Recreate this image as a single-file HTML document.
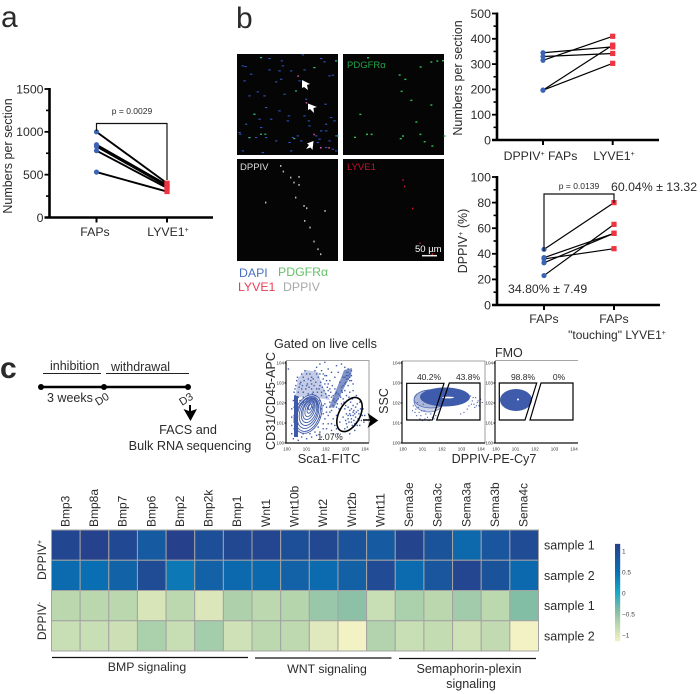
<!DOCTYPE html>
<html lang="en">
<head>
<meta charset="utf-8">
<title>Multi-panel figure: FAPs and LYVE1 analysis</title>
<style>
html,body{margin:0;padding:0;background:#fff;}
svg{display:block;filter:blur(0.3px);}
text{font-family:"Liberation Sans",sans-serif;fill:#2b2b2b;}
</style>
</head>
<body>
<svg id="fig" width="700" height="694" viewBox="0 0 700 694" xmlns="http://www.w3.org/2000/svg">
  <text x="1" y="27" font-size="30">a</text>
  <text x="236" y="28" font-size="30">b</text>
  <text x="0" y="378" font-size="30" font-weight="bold">c</text>

  <g id="chartA"></g>
  <text transform="translate(12,156) rotate(-90)" text-anchor="middle" font-size="12.5">Numbers per section</text>
  <text x="132" y="114" text-anchor="middle" font-size="8.5">p = 0.0029</text>
  <path d="M96.5 131V123.5H167V180" fill="none" stroke="#111" stroke-width="1.2"/>

  <g id="chartB1"></g>
  <text transform="translate(462,78) rotate(-90)" text-anchor="middle" font-size="12.5">Numbers per section</text>

  <g id="chartB2"></g>
  <text transform="translate(467,241) rotate(-90)" text-anchor="middle" font-size="12.5">DPPIV<tspan font-size="7" dy="-4">+</tspan><tspan dy="4"> (%)</tspan></text>
  <text x="579" y="189" text-anchor="middle" font-size="8.5">p = 0.0139</text>
  <path d="M544 251V194H614V203" fill="none" stroke="#111" stroke-width="1.2"/>
  <text x="611" y="191" font-size="12.3">60.04% ± 13.32</text>
  <text x="508" y="293" font-size="12.3">34.80% ± 7.49</text>
  <text x="617" y="339" text-anchor="middle" font-size="12">"touching" LYVE1<tspan font-size="7" dy="-4">+</tspan></text>

  <g>
    <rect x="237" y="54" width="101" height="101" fill="#050505"/>
    <rect x="343" y="54" width="101" height="101" fill="#050505"/>
    <rect x="237" y="159" width="101" height="102" fill="#050505"/>
    <rect x="343" y="159" width="101" height="102" fill="#050505"/>
    <g id="micro"></g>
    <path d="M302 80L310 84L307 85L308 90L304 87L302 88Z M308 103.500L317 107L313.500 108L314 113L310 109L308 110Z M313.500 141L312.500 150L310.500 147.500L306 149L309 145L307 143.500Z" fill="#fff"/>
    <text x="347" y="68" font-size="9.500" style="fill:#23a34a">PDGFRα</text>
    <text x="240" y="170" font-size="9.500" style="fill:#ddd">DPPIV</text>
    <text x="347" y="170" font-size="9.500" style="fill:#c8102e">LYVE1</text>
    <text x="415" y="252" font-size="9.500" style="fill:#fff">50 µm</text>
    <line x1="422" y1="255.700" x2="437" y2="255.700" stroke="#eee" stroke-width="1.500"/>
  </g>
  <g font-size="12.300">
    <text x="239" y="277" style="fill:#4a70c0">DAPI</text>
    <text x="278" y="276" style="fill:#67c06b">PDGFRα</text>
    <text x="238" y="291" style="fill:#ee3d55">LYVE1</text>
    <text x="283" y="291" style="fill:#a9a9a9">DPPIV</text>
  </g>

  <g>
    <text x="50" y="370" font-size="12.500">inhibition</text>
    <text x="111" y="371" font-size="12.500">withdrawal</text>
    <line x1="43" y1="373.500" x2="101" y2="373.500" stroke="#222"/>
    <line x1="106" y1="373.500" x2="189" y2="373.500" stroke="#222"/>
    <line x1="41" y1="387" x2="188" y2="387" stroke="#000" stroke-width="2.400"/>
    <circle cx="41" cy="387" r="3" fill="#000"/>
    <circle cx="104" cy="387" r="3" fill="#000"/>
    <circle cx="188" cy="387" r="3" fill="#000"/>
    <text x="47" y="402" font-size="12.500">3 weeks</text>
    <text transform="translate(98,406) rotate(-32)" font-size="11">D0</text>
    <text transform="translate(182,406) rotate(-32)" font-size="11">D3</text>
    <path d="M189 405h2v6l6-2-6.500 12-7-12 5.500 2z" fill="#000"/>
    <text x="188" y="434" text-anchor="middle" font-size="12.700">FACS and</text>
    <text x="190" y="450" text-anchor="middle" font-size="12.700">Bulk RNA sequencing</text>
  </g>

  <g>
    <text x="274" y="348" font-size="12.600">Gated on live cells</text>
    <text transform="translate(275,401) rotate(-90)" text-anchor="middle" font-size="12.600">CD31/CD45-APC</text>
    <text x="329" y="463" text-anchor="middle" font-size="13">Sca1-FITC</text>
    <g>
      <path d="M286 361V443H369" fill="none" stroke="#111" stroke-width="1.200"/>
      <path d="M286 360.500H369V443" fill="none" stroke="#888" stroke-width="0.800"/>
      <path d="M295 398L298 378L306 370L318 372L322 385L330 400L318 398L306 396Z" fill="#3f5bab" fill-opacity="0.300"/>
      <rect x="294" y="396" width="4" height="41" fill="#3f5bab"/>
      <g fill="none" stroke="#3f5bab" stroke-width="0.900">
        <ellipse cx="308" cy="414" rx="13" ry="20" transform="rotate(20 308 414)"/>
        <ellipse cx="308" cy="414" rx="11.500" ry="18" transform="rotate(20 308 414)"/>
        <ellipse cx="308" cy="413" rx="10" ry="16" transform="rotate(20 308 413)"/>
        <ellipse cx="308.500" cy="412" rx="8.500" ry="14" transform="rotate(20 308.500 412)"/>
        <ellipse cx="309" cy="411" rx="7" ry="12" transform="rotate(20 309 411)"/>
        <ellipse cx="309" cy="410" rx="5.500" ry="10" transform="rotate(20 309 410)"/>
        <ellipse cx="309.500" cy="409" rx="4" ry="8" transform="rotate(20 309.500 409)"/>
        <ellipse cx="310" cy="408" rx="2.500" ry="5.500" transform="rotate(20 310 408)"/>
        <ellipse cx="310" cy="407" rx="1.200" ry="3" transform="rotate(20 310 407)"/>
      </g>
      <path d="M352 368L344 370L341 378L329 407L334 408L346 384L351 376Z" fill="#3f5bab" fill-opacity="0.650"/>
      <g id="flowDots"></g>
      <ellipse cx="349.500" cy="414.500" rx="10.500" ry="18.500" transform="rotate(28 349.500 414.500)" fill="none" stroke="#000" stroke-width="1.600"/>
      <text x="330" y="440" text-anchor="middle" font-size="9">1.07%</text>
    </g>
    <path d="M363 420H371M369 415L377 420.500L369 426L371 420.500Z" fill="#000" stroke="#000" stroke-width="1.400"/>

    <g>
      <path d="M402 361V443H485V361H402" fill="none" stroke="#888" stroke-width="0.800"/>
      <path d="M402 361V443H485" fill="none" stroke="#111" stroke-width="1.200"/>
      <g fill="#3f5bab" fill-opacity="0.250" stroke="#5570b8" stroke-width="0.700">
        <ellipse cx="431" cy="399" rx="17" ry="9"/><ellipse cx="429" cy="401" rx="15" ry="11"/>
      </g>
      <ellipse cx="445" cy="397" rx="25" ry="9.500" fill="#3f5bab"/>
      <ellipse cx="448" cy="397.500" rx="6" ry="0.900" fill="#fff"/>
      <g id="flowDots2"></g>
      <path d="M406.700 383.300H444L432.300 420H406.700Z M449.300 383H480V420H436.700Z" fill="none" stroke="#000" stroke-width="1.200"/>
      <text x="429" y="380" text-anchor="middle" font-size="8.500">40.2%</text>
      <text x="468" y="380" text-anchor="middle" font-size="8.500">43.8%</text>
    </g>

    <g>
      <path d="M495 361V443H578" fill="none" stroke="#111" stroke-width="1.200"/>
      <line x1="495" y1="360.500" x2="578" y2="360.500" stroke="#888" stroke-width="0.800"/>
      <ellipse cx="516" cy="400" rx="16" ry="11" fill="#3f5bab"/>
      <circle cx="518" cy="399.500" r="1" fill="#fff"/>
      <path d="M499.300 383H536.700L525 420H499.300Z M541 383H573V420H530Z" fill="none" stroke="#000" stroke-width="1.200"/>
      <text x="523" y="380" text-anchor="middle" font-size="8.500">98.8%</text>
      <text x="559" y="380" text-anchor="middle" font-size="8.500">0%</text>
    </g>
    <text x="495" y="357" font-size="12.500">FMO</text>
    <text transform="translate(388,401) rotate(-90)" text-anchor="middle" font-size="12.500">SSC</text>
    <text x="494" y="463" text-anchor="middle" font-size="12.600">DPPIV-PE-Cy7</text>
    <g id="flowTicks"></g>
  </g>

  <g id="heat"></g>
  <text transform="translate(46,560) rotate(-90)" text-anchor="middle" font-size="12">DPPIV<tspan font-size="7" dy="-4">+</tspan></text>
  <text transform="translate(46,621) rotate(-90)" text-anchor="middle" font-size="12">DPPIV<tspan font-size="7" dy="-4">-</tspan></text>
  <g stroke="#111" stroke-width="1.200">
    <line x1="52" y1="657.500" x2="248" y2="657.500"/>
    <line x1="255" y1="658" x2="391.500" y2="658"/>
    <line x1="399" y1="658.500" x2="536" y2="658.500"/>
  </g>
  <text x="147" y="671" text-anchor="middle" font-size="12.300">BMP signaling</text>
  <text x="327" y="673" text-anchor="middle" font-size="12.300">WNT signaling</text>
  <text x="469" y="673" text-anchor="middle" font-size="12.600">Semaphorin-plexin</text>
  <text x="471" y="688" text-anchor="middle" font-size="12.600">signaling</text>
</svg>

<script>
// Panel a
const aCategories = ['FAPs', 'LYVE1'];
const aFaps = [1000, 850, 830, 780, 530];
const aLyve = [400, 380, 365, 345, 303];
const aTicks = [0, 500, 1000, 1500];
const aMinorTicks = [250, 750, 1250];
// Panel b, top
const b1Categories = ['DPPIV+ FAPs', 'LYVE1+'];
const b1Dppiv = [345, 330, 315, 197, 197];
const b1Lyve = [368, 342, 410, 375, 303];
const b1Ticks = [0, 100, 200, 300, 400, 500];
const b1MinorTicks = [50, 150, 250, 350, 450];
// Panel b, bottom
const b2Categories = ['FAPs', 'FAPs'];
const b2Left = [43.5, 37, 36, 33, 23];
const b2Right = [80, 56, 44, 56, 63];
const b2Ticks = [0, 20, 40, 60, 80, 100];
const b2MinorTicks = [10, 30, 50, 70, 90];
// Heatmap
const genes = ['Bmp3','Bmp8a','Bmp7','Bmp6','Bmp2','Bmp2k','Bmp1','Wnt1','Wnt10b','Wnt2','Wnt2b','Wnt11','Sema3e','Sema3c','Sema3a','Sema3b','Sema4c'];
const sampleLabels = ['sample 1','sample 2','sample 1','sample 2'];
const heatRow1 = [1.08,1.14,1.04,0.78,1.17,0.95,1.05,1.1,0.95,1.05,0.9,0.78,1.12,0.9,0.6,0.85,1.0];
const heatRow2 = [0.55,0.5,0.68,1.0,0.42,0.7,0.58,0.58,0.7,0.55,0.72,1.02,0.55,0.85,1.1,0.9,0.58];
const heatRow3 = [-0.75,-0.75,-0.75,-0.95,-0.76,-0.98,-0.68,-0.76,-0.72,-0.55,-0.48,-0.85,-0.66,-0.75,-0.6,-0.76,-0.42];
const heatRow4 = [-0.85,-0.85,-0.88,-0.66,-0.84,-0.62,-0.9,-0.76,-0.78,-1.02,-1.15,-0.7,-0.85,-0.82,-0.9,-0.8,-1.15];
const scaleValues = [-1.15,-0.75,-0.4,0,0.5,1.17];
const scaleColors = ['#f3f2c4','#bad7ae','#7fbba5','#18aac6','#0a6fb2','#27408b'];
const colorbarTicks = [1, 0.5, 0, -0.5, -1];
const colorbarLabels = ['1','0.5','0','−0.5','−1'];
// Micrographs: spot locations in image-crop pixels
const dapiSpots = [[75,15],[100,18],[20,40],[28,42],[137,25],[140,40],[200,7],[255,18],[265,28],[300,25],[235,45],[205,52],[165,55],[130,55],[100,52],[45,65],[25,85],[120,88],[135,80],[280,70],[290,68],[190,85],[65,118],[40,130],[85,130],[145,125],[210,140],[268,155],[90,165],[130,175],[55,185],[158,190],[105,200],[155,205],[70,200],[30,215],[205,190],[218,205],[285,195],[295,205],[270,215],[220,220],[255,235],[270,235],[75,225],[120,265],[90,255],[60,255],[10,240],[12,245],[40,255],[170,255],[185,250],[160,270],[280,265],[300,250],[290,290],[300,295],[270,285],[195,265],[20,295],[80,300],[165,295],[250,260],[245,270],[240,250]];
const mergedGreenSpots = [[75,15],[180,115],[55,185],[75,245],[40,255],[88,245],[175,258],[305,250],[300,25],[235,45]];
const mergedMagentaSpots = [[280,285],[187,70],[212,150],[255,285],[235,245]];
const pdgfraSpots = [[75,15],[170,67],[187,80],[233,43],[265,28],[283,25],[300,24],[176,116],[205,143],[265,157],[52,185],[220,208],[232,245],[180,250],[173,258],[36,254],[72,245],[86,245],[245,267],[268,280],[305,250]];
const dppivSpots = [[150,495],[158,512],[180,530],[190,545],[205,528],[205,552],[220,615],[228,622],[105,605],[195,590],[238,680],[222,660],[250,722],[262,745],[270,760],[283,630]];
const lyveSpots = [[517,538],[522,557],[546,623],[568,727],[605,760]];
// Flow cytometry events on a 0-100 channel scale
const sca1Events = [[2,90],[12,76],[22,88],[28,84],[36,92],[40,96],[42,88],[46,98],[50,90],[54,86],[38,80],[44,78],[30,72],[24,70],[18,66],[14,62],[10,58],[16,52],[20,56],[26,60],[32,62],[36,66],[40,70],[46,72],[50,64],[34,54],[28,50],[22,46],[12,46],[8,52],[42,58],[48,56],[52,50],[56,46],[60,52],[62,60],[66,68],[70,72],[72,78],[74,82],[76,84],[72,86],[68,80],[76,76],[64,74],[58,66],[56,58],[60,44],[54,40],[50,34],[46,30],[44,24],[48,18],[40,14],[36,10],[30,8],[24,6],[18,8],[14,4],[8,6],[6,12],[6,22],[6,32],[6,42],[9,34],[42,42],[38,44],[60,34],[64,26],[58,22],[54,16],[62,12],[70,18],[72,24],[74,30],[76,36],[78,42],[80,46],[84,38],[86,30],[82,24],[78,18],[76,12],[72,36],[68,32],[70,42],[74,44],[78,30],[80,34],[82,16],[88,22],[90,28],[66,48],[68,54],[72,58],[76,62],[80,64],[84,58],[88,50],[92,42],[94,34],[70,64],[74,70],[80,72],[78,88],[74,90],[70,92],[66,96],[60,94],[32,78],[26,78],[20,80],[16,72],[20,62],[30,66],[40,52],[46,48],[52,44],[34,58],[24,54],[14,56],[11,70],[58,80],[52,76],[48,82],[62,86],[42,62],[37,48],[31,44],[26,42],[44,36],[48,38],[56,30],[60,18],
  [15,68],[17,74],[19,70],[21,76],[23,66],[25,72],[27,68],[29,76],[31,60],[33,70],[35,74],[37,62],[39,66],[41,74],[43,68],[45,64],[47,60],[49,68],[51,58],[53,62],[55,70],[57,54],[59,60],[61,48],[63,42],[65,56],[67,62],[69,50],[71,46],[73,52],[75,56],[77,50],[79,54],[81,40],[83,44],[85,48],[87,36],[89,42],[91,34],[93,26],[71,28],[73,20],[75,26],[77,34],[79,22],[81,28],[83,32],[85,22],[87,28],[80,38],[82,36],[76,40],[74,34],[78,26],[80,20],[84,26],[86,40],[70,80],[72,82],[74,78],[76,80],[78,82],[78,76],[74,86],[71,74],[68,70],[66,64],[64,58],[62,54],[60,62],[58,50],[56,52],[54,56],[52,66],[50,72],[48,76],[46,82],[44,84],[40,84],[36,84],[34,88],[30,80],[24,84],[18,84],[13,80],[9,62],[10,66],[12,52],[14,48],[18,48],[20,50],[24,50],[30,54],[32,50],[36,50],[44,46],[48,44],[52,38],[40,32],[44,18],[50,24],[54,24],[56,12],[38,20],[42,8],[34,14],[28,12],[20,12],[12,10],[9,18],[9,26],[9,44],[11,38]];
const dppivEvents = [[13,46],[16,42],[18,50],[20,38],[22,34],[25,48],[26,40],[17,34],[21,30],[28,36],[30,32],[34,36],[36,32],[84,52],[86,48],[88,56],[90,50],[92,46],[94,54],[80,46],[82,58],[78,42],[74,38],[70,36],[96,50],[12,40],[15,38],[19,44],[23,40],[27,30],[24,28],[32,28],[38,30],[40,34],[87,44],[83,48],[85,56],[91,52],[89,46]];
const flowTickPlotLefts = [286, 402, 495];
const flowTickExponents = ['0','1','2','3','4'];

const svgNS = 'http://www.w3.org/2000/svg';
function mk(tag, attrs, parent, text) {
  const el = document.createElementNS(svgNS, tag);
  for (const k in attrs) el.setAttribute(k, attrs[k]);
  if (text !== undefined) el.textContent = text;
  parent.appendChild(el);
  return el;
}
function linear(d0, d1, r0, r1) {
  return v => r0 + (v - d0) * (r1 - r0) / (d1 - d0);
}

function drawPaired(cfg) {
  const g = document.getElementById(cfg.id);
  const y = linear(cfg.yMin, cfg.yMax, cfg.y0, cfg.y1);
  const x = i => cfg.xPos[0] + i * (cfg.xPos[1] - cfg.xPos[0]);
  const yAxis = mk('line', {x1: cfg.axisX, y1: y(cfg.yMax) - 1, x2: cfg.axisX, y2: cfg.y0 + 1, stroke: '#000', 'stroke-width': 2.6}, g);
  
  
  const xAxis = mk('line', {x1: cfg.axisX - 5, y1: cfg.y0, x2: cfg.xEnd, y2: cfg.y0, stroke: '#000', 'stroke-width': 2.6}, g);
  
  
  cfg.ticks.forEach(t => {
    const tick = mk('line', {x1: cfg.axisX - 5, y1: y(t), x2: cfg.axisX, y2: y(t), stroke: '#000', 'stroke-width': 1.8}, g);
    
    
    const lab = mk('text', {x: cfg.axisX - 6, y: y(t) + 4.3, 'text-anchor': 'end', 'font-size': 12.3}, g, String(t));
    
    
  });
  cfg.minor.forEach(t => {
    const tick = mk('line', {x1: cfg.axisX - 3.5, y1: y(t), x2: cfg.axisX, y2: y(t), stroke: '#000', 'stroke-width': 1.6}, g);
    
    
  });
  cfg.categories.forEach((c, i) => {
    const tick = mk('line', {x1: x(i), y1: cfg.y0, x2: x(i), y2: cfg.y0 + 5, stroke: '#000', 'stroke-width': 2}, g);
    
    
    const lab = mk('text', {x: cfg.labelX[i], y: cfg.y0 + cfg.labelDy, 'text-anchor': 'middle', 'font-size': 12.3}, g);
    
    
    const plus = c.indexOf('+');
    const base = plus >= 0 ? c.slice(0, plus) : c;
    mk('tspan', {}, lab, base);
    if (plus >= 0 || c === 'LYVE1') {
      mk('tspan', {'font-size': 7, dy: -4}, lab, '+');
      const rest = plus >= 0 ? c.slice(plus + 1) : '';
      if (rest) mk('tspan', {dy: 4}, lab, rest);
    }
  });
  cfg.left.forEach((v, i) => {
    const line = mk('line', {x1: x(0), y1: y(v), x2: x(1), y2: y(cfg.right[i]), stroke: '#000', 'stroke-width': cfg.lineWidth}, g);
    
    
  });
  cfg.left.forEach(v => {
    const dot = mk('circle', {cx: x(0), cy: y(v), r: 2.6, fill: '#3b64b2'}, g);
    
    
  });
  cfg.right.forEach(v => {
    const sq = mk('rect', {x: x(1) - 2.6, y: y(v) - 2.6, width: 5.2, height: 5.2, fill: '#ef3340'}, g);
    
    
  });
}

drawPaired({id: 'chartA', name: 'panel-a', yMin: 0, yMax: 1500, y0: 217.5, y1: 89, axisX: 49.5, xEnd: 213, xPos: [96.5, 167], labelX: [95, 168], labelDy: 18.5, ticks: aTicks, minor: aMinorTicks, categories: aCategories, left: aFaps, right: aLyve, lineWidth: 1.9});
drawPaired({id: 'chartB1', name: 'panel-b-top', yMin: 0, yMax: 500, y0: 140, y1: 13.5, axisX: 497, xEnd: 659, xPos: [543, 612.7], labelX: [540.5, 614], labelDy: 20, ticks: b1Ticks, minor: b1MinorTicks, categories: b1Categories, left: b1Dppiv, right: b1Lyve, lineWidth: 1.2});
drawPaired({id: 'chartB2', name: 'panel-b-bottom', yMin: 0, yMax: 100, y0: 305, y1: 177, axisX: 497, xEnd: 660, xPos: [544, 614], labelX: [544, 614], labelDy: 18, ticks: b2Ticks, minor: b2MinorTicks, categories: b2Categories, left: b2Left, right: b2Right, lineWidth: 1.2});

// Heatmap
(function () {
  const g = document.getElementById('heat');
  const left = 51.5, top = 530, cellW = 487 / genes.length, cellH = 121 / 4;
  const rows = [heatRow1, heatRow2, heatRow3, heatRow4];
  function hex(c) { return [1, 3, 5].map(i => parseInt(c.substr(i, 2), 16)); }
  function color(v) {
    let i = 0;
    while (i < scaleValues.length - 2 && v > scaleValues[i + 1]) i++;
    const t = Math.max(0, Math.min(1, (v - scaleValues[i]) / (scaleValues[i + 1] - scaleValues[i])));
    const a = hex(scaleColors[i]), b = hex(scaleColors[i + 1]);
    return 'rgb(' + a.map((p, k) => Math.round(p + (b[k] - p) * t)).join(',') + ')';
  }
  rows.forEach((row, r) => {
    row.forEach((v, c) => {
      const cell = mk('rect', {x: left + c * cellW, y: top + r * cellH, width: cellW, height: cellH, fill: color(v), stroke: '#a3a3a3', 'stroke-width': 1}, g);
      
      
    });
    const lab = mk('text', {x: 544, y: top + (r + 0.5) * cellH + 4.5, 'font-size': 12.5}, g, sampleLabels[r]);
    
    
  });
  genes.forEach((name, c) => {
    const cx = left + (c + 0.5) * cellW;
    const lab = mk('text', {transform: 'translate(' + (cx + 3.5) + ',527) rotate(-90)', 'font-size': 12}, g, name);
    
    
  });
  // Colour bar
  const barY = linear(1, -1, 551, 635);
  const defs = mk('defs', {}, g);
  const grad = mk('linearGradient', {id: 'cbGrad', x1: 0, y1: 0, x2: 0, y2: 1}, defs);
  const vMax = scaleValues[scaleValues.length - 1], vMin = scaleValues[0];
  scaleValues.slice().reverse().forEach(v => {
    mk('stop', {offset: (vMax - v) / (vMax - vMin), 'stop-color': color(v)}, grad);
  });
  const bar = mk('rect', {x: 615, y: barY(vMax), width: 5.2, height: barY(vMin) - barY(vMax), fill: 'url(#cbGrad)'}, g);
  
  
  colorbarTicks.forEach((t, i) => {
    const lab = mk('text', {x: 622, y: barY(t) + 2.3, 'font-size': 6.5, style: 'fill:#444'}, g, colorbarLabels[i]);
    
    
  });
})();

// Micrographs
(function () {
  const g = document.getElementById('micro');
  function spots(list, ox, oy, scale, color, w, h, name) {
    list.forEach(p => {
      const s = mk('rect', {x: ox + p[0] * scale, y: oy + p[1] * scale, width: w, height: h, fill: color}, g);
      
      
    });
  }
  spots(dapiSpots, 235, 52, 1 / 3, '#2f52c0', 2.4, 1.1, 'dapi-spot');
  spots(mergedGreenSpots, 235, 52, 1 / 3, '#2dbd77', 2, 1.2, 'merged-green-spot');
  spots(mergedMagentaSpots, 235, 52, 1 / 3, '#c050a0', 1.6, 1.6, 'merged-magenta-spot');
  spots(pdgfraSpots, 342, 52, 1 / 3, '#2fbf55', 2, 1.4, 'pdgfra-spot');
  spots(dppivSpots, 230, 0, 1 / 3, '#bdbdbd', 1.4, 1.8, 'dppiv-spot');
  spots(lyveSpots, 230, 0, 1 / 3, '#d8152f', 1.3, 1.6, 'lyve1-spot');
})();

// Flow plots
(function () {
  const g = document.getElementById('flowDots');
  const xS = linear(0, 100, 286, 369), yS = linear(0, 100, 443, 360);
  sca1Events.forEach(p => {
    const d = mk('rect', {x: xS(p[0]), y: yS(p[1]), width: 1.4, height: 1.4, fill: '#3f5bab'}, g);
    
    
  });
  const g2 = document.getElementById('flowDots2');
  const xS2 = linear(0, 100, 402, 485), yS2 = linear(0, 100, 443, 361);
  dppivEvents.forEach(p => {
    const d = mk('rect', {x: xS2(p[0]), y: yS2(p[1]), width: 1.1, height: 1.1, fill: '#3f5bab'}, g2);
    
    
  });
  const t = document.getElementById('flowTicks');
  flowTickPlotLefts.forEach(left => {
    flowTickExponents.forEach((e, i) => {
      const xp = left + 1 + i * 19.5;
      const lab = mk('text', {x: xp, y: 450.5, 'text-anchor': 'middle', 'font-size': 4.5}, t, '10' + e);
      
      
      const yp = 443 - i * 20;
      const ylab = mk('text', {x: left - 2, y: yp + 1.5, 'text-anchor': 'end', 'font-size': 4.5}, t, '10' + e);
      
      
      const tick = mk('line', {x1: left - 1.5, y1: yp, x2: left, y2: yp, stroke: '#000', 'stroke-width': 1}, t);
      
      
    });
  });
})();
</script>
</body>
</html>
